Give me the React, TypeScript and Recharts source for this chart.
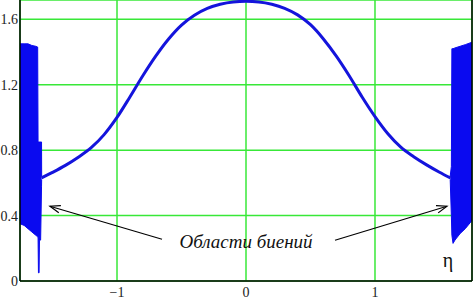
import {
  ComposedChart, Line, Area, XAxis, YAxis, CartesianGrid, ReferenceLine, ReferenceDot
} from "recharts"

// main curve (outside the beat regions)
const etaCurve = [-1.585, -1.5, -1.4, -1.3, -1.2, -1.1, -1.0, -0.9, -0.8, -0.7, -0.6, -0.5, -0.4, -0.3, -0.2, -0.1, 0,
  0.1, 0.2, 0.3, 0.4, 0.5, 0.6, 0.7, 0.8, 0.9, 1.0, 1.1, 1.2, 1.3, 1.4, 1.5, 1.585]
const psiCurve = [0.63, 0.664, 0.707, 0.757, 0.815, 0.895, 1.0, 1.125, 1.255, 1.375, 1.48, 1.565, 1.625, 1.667, 1.692, 1.706, 1.71,
  1.706, 1.692, 1.667, 1.627, 1.567, 1.48, 1.375, 1.255, 1.125, 1.005, 0.9, 0.818, 0.76, 0.71, 0.665, 0.63]

// beat regions: envelope (low / high)
const etaBeatLeft = [-1.752, -1.72, -1.69, -1.66, -1.63, -1.615, -1.612, -1.609, -1.604, -1.601, -1.592, -1.585, -1.584]
const lowBeatLeft = [0.35, 0.34, 0.32, 0.3, 0.28, 0.27, 0.27, 0.05, 0.05, 0.25, 0.25, 0.58, 0.62]
const highBeatLeft = [1.45, 1.45, 1.45, 1.44, 1.435, 1.43, 0.85, 0.85, 0.85, 0.85, 0.85, 0.85, 0.64]

const etaBeatRight = [1.583, 1.592, 1.596, 1.605, 1.62, 1.66, 1.7, 1.752]
const lowBeatRight = [0.62, 0.4, 0.28, 0.23, 0.25, 0.29, 0.32, 0.37]
const highBeatRight = [0.64, 0.7, 1.42, 1.42, 1.425, 1.435, 1.445, 1.46]

const xTicks = [-1, 0, 1]
const yTicks = [0, 0.4, 0.8, 1.2, 1.6]
const annotation = "Области биений"
const axisName = "η"

const curve = etaCurve.map((eta, i) => ({ eta, psi: psiCurve[i] }))
const beatLeft = etaBeatLeft.map((eta, i) => ({ eta, low: lowBeatLeft[i], high: highBeatLeft[i] }))
const beatRight = etaBeatRight.map((eta, i) => ({ eta, low: lowBeatRight[i], high: highBeatRight[i] }))

const serif = "'Liberation Serif', 'Times New Roman', serif"

function Arrow(props: any) {
  const { x1, y1, x2, y2 } = props
  const a = Math.atan2(y2 - y1, x2 - x1)
  const len = 11
  const spread = 0.35
  const p1 = [x2 - len * Math.cos(a - spread), y2 - len * Math.sin(a - spread)]
  const p2 = [x2 - len * Math.cos(a + spread), y2 - len * Math.sin(a + spread)]
  return (
    <g>
      <line x1={x1} y1={y1} x2={x2} y2={y2} stroke="#000" strokeWidth={1.2} />
      <polyline points={`${p1[0]},${p1[1]} ${x2},${y2} ${p2[0]},${p2[1]}`} fill="none" stroke="#000" strokeWidth={1.2} />
    </g>
  )
}

export default function App() {
  return (
    <div style={{ position: "absolute", left: 0, top: 0, background: "#fff" }}>
      <ComposedChart width={474} height={300} margin={{ top: 0, right: 2, left: 0, bottom: 0 }}>
        <CartesianGrid stroke="#38e838" strokeWidth={1.5} />
        <XAxis
          type="number"
          dataKey="eta"
          domain={[-1.752, 1.752]}
          ticks={xTicks}
          allowDataOverflow
          height={19}
          tickLine={false}
          tickSize={0}
          tickMargin={6}
          axisLine={{ stroke: "#000", strokeWidth: 1.5 }}
          tick={{ fill: "#222", fontSize: 14, fontFamily: serif }}
          tickFormatter={(v: number) => (v < 0 ? "\u2212" + Math.abs(v) : String(v))}
        />
        <YAxis
          type="number"
          domain={[0, 1.718]}
          ticks={yTicks}
          allowDataOverflow
          width={20}
          tickLine={false}
          tickSize={0}
          tickMargin={2}
          axisLine={{ stroke: "#000", strokeWidth: 1.5 }}
          tick={{ fill: "#222", fontSize: 14, fontFamily: serif }}
        />
        <ReferenceLine x={1.752} stroke="#000" strokeWidth={1.5} ifOverflow="visible" />
        <Area
          data={beatLeft}
          dataKey={(d: any) => [d.low, d.high]}
          type="linear"
          stroke="#0a0af0"
          strokeWidth={1}
          fill="#0a0af0"
          fillOpacity={1}
          isAnimationActive={false}
        />
        <Area
          data={beatRight}
          dataKey={(d: any) => [d.low, d.high]}
          type="linear"
          stroke="#0a0af0"
          strokeWidth={1}
          fill="#0a0af0"
          fillOpacity={1}
          isAnimationActive={false}
        />
        <Line
          data={curve}
          dataKey="psi"
          type="monotone"
          stroke="#1414dc"
          strokeWidth={3}
          dot={false}
          isAnimationActive={false}
        />
        <ReferenceLine segment={[{ x: -0.651, y: 0.255 }, { x: -1.52, y: 0.457 }]} shape={Arrow} />
        <ReferenceLine segment={[{ x: 0.69, y: 0.249 }, { x: 1.558, y: 0.457 }]} shape={Arrow} />
        <ReferenceDot
          x={0}
          y={0.2}
          r={0}
          shape={(p: any) => (
            <text x={p.cx} y={p.cy} textAnchor="middle" fontFamily={serif} fontStyle="italic" fontSize={19} fill="#111">
              {annotation}
            </text>
          )}
        />
        <ReferenceDot
          x={1.566}
          y={0.085}
          r={0}
          shape={(p: any) => (
            <text x={p.cx} y={p.cy} textAnchor="middle" fontFamily={serif} fontSize={20} fill="#111">
              {axisName}
            </text>
          )}
        />
      </ComposedChart>
    </div>
  )
}
